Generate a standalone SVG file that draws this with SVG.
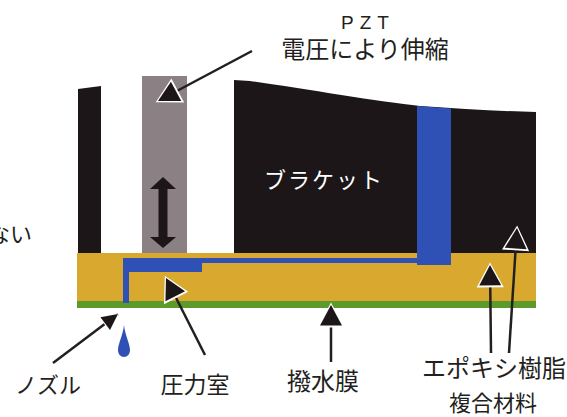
<svg xmlns="http://www.w3.org/2000/svg" width="567" height="417" viewBox="0 0 567 417">
  <style>
    .lbl { font-family: "Noto Sans CJK JP", "Noto Sans", sans-serif; fill: #231f20; text-anchor: middle; }
    .dark { fill: #1c1618; }
    .ink { fill: #2f51b6; }
    .lead { stroke: #231f20; stroke-width: 2.5; fill: none; }
  </style>
  <defs>
    <!-- filled arrowhead with a white halo, drawn as two fills -->
    <marker id="head" markerUnits="userSpaceOnUse" markerWidth="30" markerHeight="30" refX="0" refY="0" orient="auto" overflow="visible">
      <path d="M2.6,0 L-22.4,-13.6 L-22.4,13.6 Z" fill="#ffffff" stroke="none"/>
      <path d="M0,0 L-20.5,-11 L-20.5,11 Z" fill="#1c1618" stroke="none"/>
    </marker>
    <marker id="head-s" markerUnits="userSpaceOnUse" markerWidth="24" markerHeight="24" refX="0" refY="0" orient="auto" overflow="visible">
      <path d="M1.8,0 L-17,-9.5 L-17,9.5 Z" fill="#ffffff" stroke="none"/>
      <path d="M0,0 L-16,-8 L-16,8 Z" fill="#1c1618" stroke="none"/>
    </marker>
  </defs>

  <rect width="567" height="417" fill="#ffffff"/>

  <!-- left wall -->
  <g id="wall">
    <path class="dark" d="M78,89 L101,86 L101,254 L78,254 Z"/>
  </g>

  <!-- PZT actuator column -->
  <g id="pzt">
    <rect x="142" y="76" width="45" height="178" fill="#8b8084"/>
    <path class="dark" d="M163,177 L176,189 L167.5,189 L167.5,237 L176,237 L163,248 L150,237 L158.5,237 L158.5,189 L150,189 Z"/>
  </g>

  <!-- bracket -->
  <g id="bracket">
    <path class="dark" d="M234,80 L250,81 C300,88 380,102 420,106 C460,109 500,111 536,112 L536,254 L234,254 Z"/>
    <text class="lbl" x="324" y="188" font-size="22" style="fill:#ffffff" letter-spacing="2">ブラケット</text>
  </g>

  <!-- epoxy resin composite layer -->
  <g id="resin">
    <rect x="77" y="253" width="459" height="48" fill="#d9a92f"/>
  </g>

  <!-- water-repellent membrane -->
  <g id="membrane">
    <rect x="77" y="301" width="459" height="7" fill="#5c9a2b"/>
  </g>

  <!-- ink channel, pressure chamber and nozzle -->
  <g id="channel">
    <path class="ink" d="M417,106 L451,108.5 L451,265 L417,265 L417,263 L202,263 L202,272 L129,272 L129,303 L123,303 L123,258 L417,258 Z"/>
  </g>

  <!-- ejected droplet -->
  <g id="droplet">
    <path class="ink" d="M124,325 C125,335 130,344 130,350 C130,354 127.5,357 124,357 C120.5,357 118,354 118,350 C118,344 123,335 124,325 Z"/>
  </g>

  <!-- leader lines -->
  <g id="connectors">
    <line class="lead" x1="252" y1="51" x2="158" y2="101" marker-end="url(#head)"/>
    <line class="lead" x1="53" y1="363" x2="118" y2="314" marker-end="url(#head-s)"/>
    <line class="lead" x1="205" y1="355" x2="166" y2="278" marker-end="url(#head)"/>
    <line class="lead" x1="331" y1="362" x2="331" y2="305" marker-end="url(#head)"/>
    <line class="lead" x1="491" y1="353" x2="490" y2="265" marker-end="url(#head)"/>
    <line class="lead" x1="509" y1="353" x2="517" y2="228" marker-end="url(#head)"/>
  </g>

  <!-- labels -->
  <g id="labels">
    <text class="lbl" x="368" y="29" font-size="19" letter-spacing="6" style="font-family:'Liberation Sans', Arial, sans-serif">PZT</text>
    <text class="lbl" x="365" y="58" font-size="24">電圧により伸縮</text>
    <text class="lbl" x="32" y="242" font-size="22" style="text-anchor:end">ない</text>
    <text class="lbl" x="48" y="393" font-size="22">ノズル</text>
    <text class="lbl" x="195" y="393" font-size="23">圧力室</text>
    <text class="lbl" x="323" y="390" font-size="24">撥水膜</text>
    <text class="lbl" x="494" y="377" font-size="24">エポキシ樹脂</text>
    <text class="lbl" x="493" y="411" font-size="22">複合材料</text>
  </g>
</svg>
